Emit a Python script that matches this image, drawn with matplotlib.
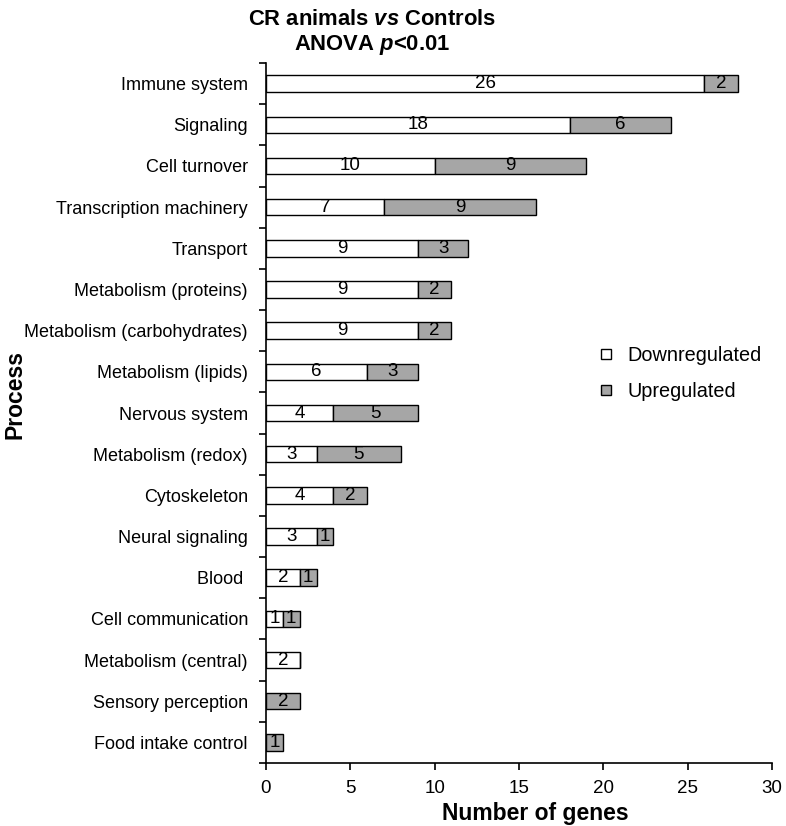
import numpy as np
import matplotlib.pyplot as plt
from matplotlib.patches import Patch

plt.rcParams['font.family'] = ['Liberation Sans', 'DejaVu Sans']
plt.rcParams['mathtext.fontset'] = 'custom'
plt.rcParams['mathtext.rm'] = 'Liberation Sans:bold'
plt.rcParams['mathtext.it'] = 'Liberation Sans:bold:italic'

processes = ['Immune system', 'Signaling', 'Cell turnover', 'Transcription machinery',
             'Transport', 'Metabolism (proteins)', 'Metabolism (carbohydrates)',
             'Metabolism (lipids)', 'Nervous system', 'Metabolism (redox)',
             'Cytoskeleton', 'Neural signaling', 'Blood ', 'Cell communication',
             'Metabolism (central)', 'Sensory perception', 'Food intake control']
down = [26, 18, 10, 7, 9, 9, 9, 6, 4, 3, 4, 3, 2, 1, 2, 0, 0]
up = [2, 6, 9, 9, 3, 2, 2, 3, 5, 5, 2, 1, 1, 1, 0, 2, 1]

fig = plt.figure(figsize=(7.86, 8.26), dpi=100)
ax = fig.add_axes([0.3384, 0.0763, 0.6436, 0.8474])

n = len(processes)
y = np.arange(n)[::-1]
h = 0.4
ax.barh(y, down, height=h, color='white', edgecolor='black', linewidth=1.0)
ax.barh(y, up, height=h, left=down, color='#a6a6a6', edgecolor='black', linewidth=1.0)

for yi, d, u in zip(y, down, up):
    if d > 0:
        ax.text(d / 2, yi, str(d), ha='center', va='center', fontsize=13.5)
    if u > 0:
        ax.text(d + u / 2, yi, str(u), ha='center', va='center', fontsize=13.5)

ax.set_xlim(0, 30)
ax.set_ylim(-0.5, n - 0.5)
ax.set_xticks(range(0, 31, 5))
ax.set_yticks(np.arange(-0.5, n, 1))
ax.set_yticklabels([])
ax.set_yticks(y, minor=True)
ax.set_yticklabels(processes, minor=True, fontsize=13)
ax.tick_params(axis='y', which='minor', length=0, pad=13)
ax.tick_params(axis='y', which='major', length=5, width=1.2, direction='out')
ax.tick_params(axis='x', length=5, width=1.2, direction='out', labelsize=13.5, pad=7)

for s in ['top', 'right']:
    ax.spines[s].set_visible(False)
for s in ['left', 'bottom']:
    ax.spines[s].set_linewidth(1.2)

ax.set_xlabel('Number of genes', fontsize=16.5, fontweight='bold')
ax.xaxis.set_label_coords(0.533, -0.056)
ax.set_ylabel('Process', fontsize=16.5, fontweight='bold')
ax.yaxis.set_label_coords(-0.474, 0.527)

fig.text(372 / 786, 1 - 25 / 826, 'CR animals $\\it{vs}$ Controls', ha='center',
         va='baseline', fontsize=15.8, fontweight='bold')
fig.text(372 / 786, 1 - 50 / 826, 'ANOVA $\\it{p}$<0.01', ha='center',
         va='baseline', fontsize=15.8, fontweight='bold')

handles = [Patch(facecolor='white', edgecolor='black', label='Downregulated'),
           Patch(facecolor='#a6a6a6', edgecolor='black', label='Upregulated')]
fig.legend(handles=handles, loc='upper left', bbox_to_anchor=(585 / 786, 1 - 330 / 826),
           frameon=False, fontsize=14.3, handlelength=0.53, handleheight=0.44,
           handletextpad=0.8, labelspacing=0.86, borderpad=0.3)

fig.savefig('out.png', dpi=100)
